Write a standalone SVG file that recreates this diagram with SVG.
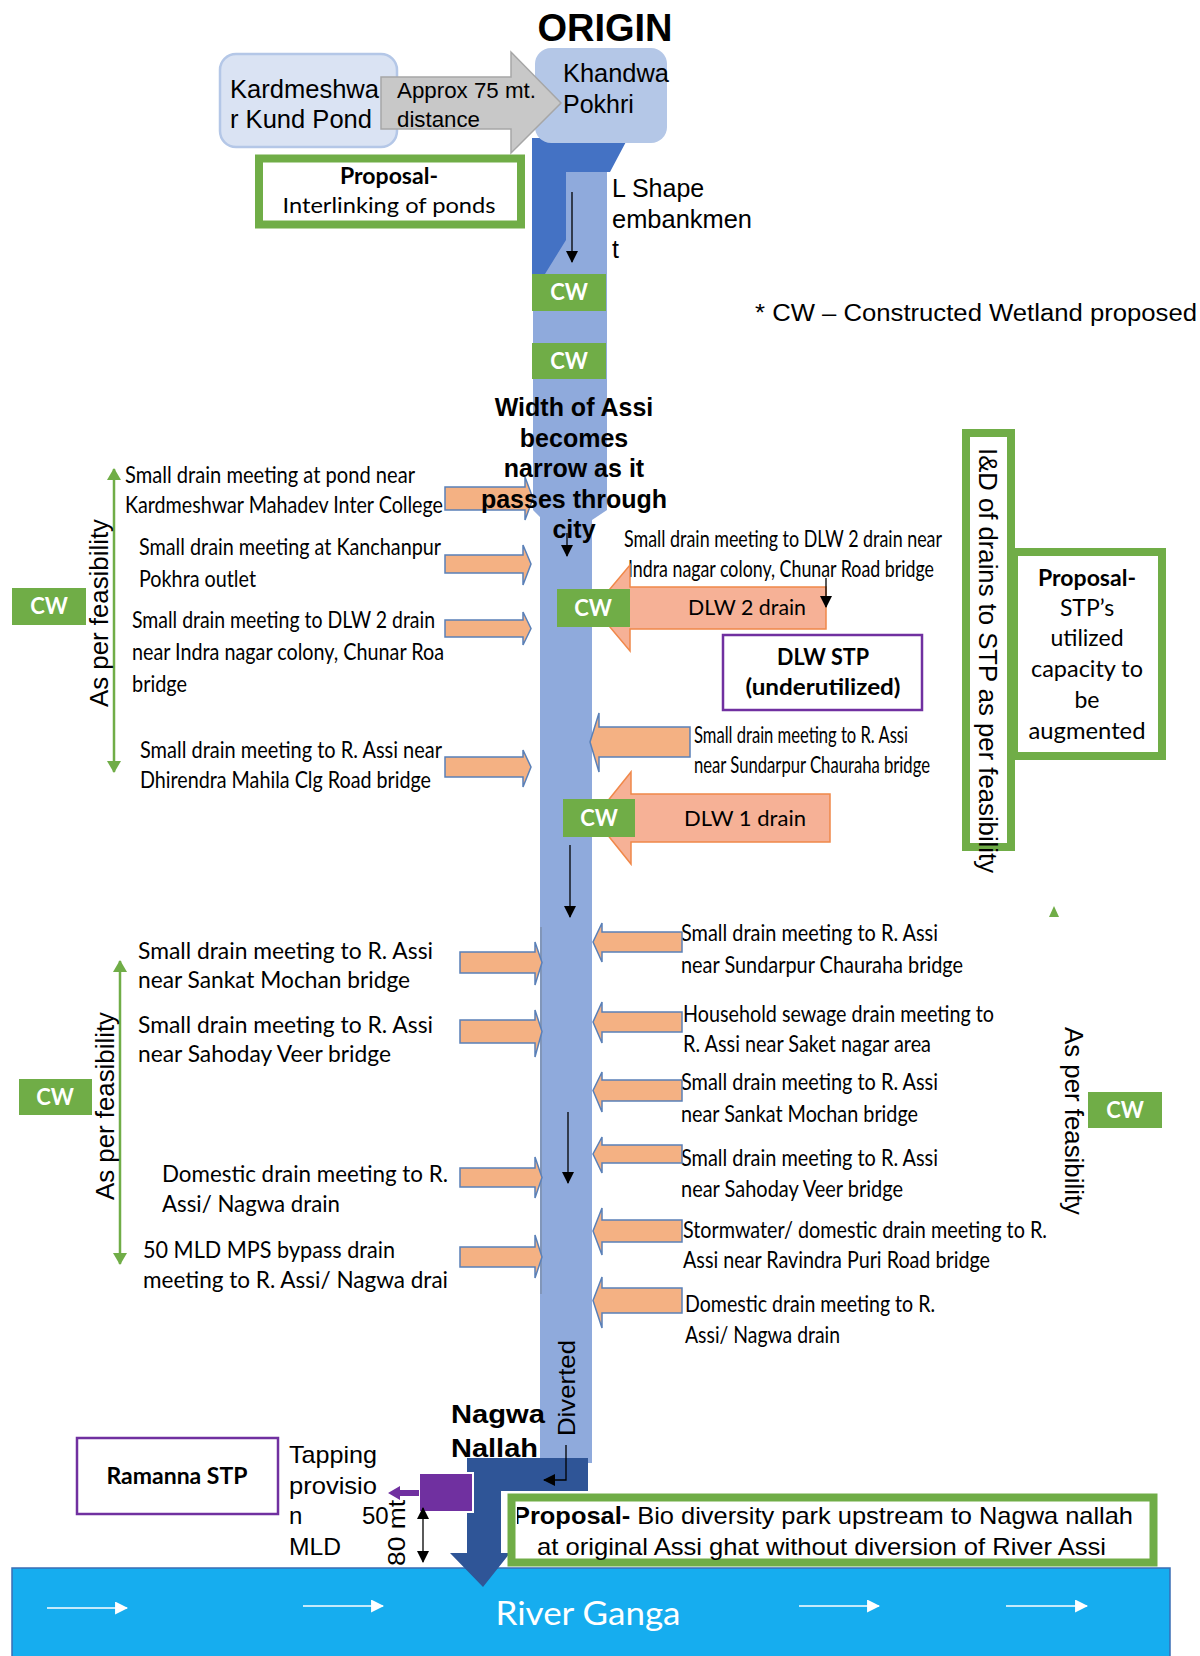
<svg xmlns="http://www.w3.org/2000/svg" width="1200" height="1656" viewBox="0 0 1200 1656">
<style>
  text { font-family: "Liberation Sans", Arial, sans-serif; fill: #000; }
  .cal { font-family: Lato, "Liberation Sans", Arial, sans-serif; }
  .dr { font-family: Lato, "Liberation Sans", Arial, sans-serif; font-size: 23.5px; }
  .b { font-weight: bold; }
  .mid { text-anchor: middle; }
  .cw rect { fill: #70ad47; }
  .cw text { fill: #fff; font-family: Lato, "Liberation Sans", Arial, sans-serif; font-weight: bold; font-size: 22px; text-anchor: middle; }
  .sarrow { fill: #f4b183; stroke: #5a80b8; stroke-width: 1.5; stroke-linejoin: miter; }
  .bigarrow { fill: #f6b196; stroke: #f0884a; stroke-width: 1.5; }
  .gbox { fill: #fff; stroke: #70ad47; stroke-width: 8; }
  .pbox { fill: #fff; stroke: #7030a0; stroke-width: 2.5; }
  .line { stroke: #000; stroke-width: 1.3; fill: none; }
  .gline { stroke: #70ad47; stroke-width: 2.5; fill: none; }
  .wline { stroke: #fff; stroke-width: 1.6; fill: none; }
</style>
<defs>
  <marker id="ah" viewBox="0 0 12 12" refX="11" refY="6" markerWidth="12" markerHeight="12" markerUnits="userSpaceOnUse" orient="auto-start-reverse">
    <path d="M0,0 L12,6 L0,12 z" fill="#000"/>
  </marker>
  <marker id="gh" viewBox="0 0 12 14" refX="11" refY="7" markerWidth="12" markerHeight="14" markerUnits="userSpaceOnUse" orient="auto-start-reverse">
    <path d="M0,0 L12,7 L0,14 z" fill="#70ad47"/>
  </marker>
  <marker id="wh" viewBox="0 0 12 12" refX="11" refY="6" markerWidth="13" markerHeight="13" markerUnits="userSpaceOnUse" orient="auto">
    <path d="M0,0 L12,6 L0,12 z" fill="#fff"/>
  </marker>
  <clipPath id="propClip"><rect x="517" y="1500" width="634" height="60"/></clipPath>
</defs>

<!-- river channel (Assi) -->
<g id="assi-channel">
  <polygon points="533,140 607,140 607,510 592,520 592,1463 540,1463 540,517 533,510" fill="#8faadc"/>
  <polygon points="532,138 628,138 610,172 566,172 566,240 545,274 532,274" fill="#4472c4"/>
  <line x1="541" y1="927" x2="541" y2="1294" stroke="#7d8fae" stroke-width="1.5"/>
</g>

<!-- River Ganga -->
<g id="ganga">
  <rect x="12" y="1568" width="1158" height="95" fill="#16adef" stroke="#3a6db5" stroke-width="1.5"/>
  <line class="wline" x1="47" y1="1608" x2="127" y2="1608" marker-end="url(#wh)"/>
  <line class="wline" x1="303" y1="1606" x2="383" y2="1606" marker-end="url(#wh)"/>
  <line class="wline" x1="799" y1="1606" x2="879" y2="1606" marker-end="url(#wh)"/>
  <line class="wline" x1="1006" y1="1606" x2="1087" y2="1606" marker-end="url(#wh)"/>
  <text class="cal mid" x="588" y="1625" font-size="33" fill="#fff" style="fill:#fff" textLength="185" lengthAdjust="spacingAndGlyphs">River Ganga</text>
</g>

<!-- origin ponds -->
<g id="origin">
  <text class="b mid" x="605" y="41" font-size="38">ORIGIN</text>
</g>
<g id="kardmeshwar">
  <rect x="220" y="54" width="177" height="93" rx="16" fill="#dae3f3" stroke="#b4c7e7" stroke-width="2.5"/>
  <text x="230" y="98" font-size="25" textLength="149" lengthAdjust="spacingAndGlyphs">Kardmeshwa</text>
  <text x="230" y="128" font-size="25" textLength="142" lengthAdjust="spacingAndGlyphs">r Kund Pond</text>
</g>
<g id="khandwa">
  <rect x="535" y="48" width="132" height="95" rx="16" fill="#b4c7e7"/>
</g>
<g id="distance-arrow">
  <polygon points="381,77 511,77 511,52 561,103 511,153 511,129 381,129" fill="#c8c8c8" stroke="#a6a6a6" stroke-width="1.5"/>
  <text x="397" y="98" font-size="22" textLength="139" lengthAdjust="spacingAndGlyphs">Approx 75 mt.</text>
  <text x="397" y="127" font-size="22" textLength="83" lengthAdjust="spacingAndGlyphs">distance</text>
</g>
<g id="khandwa-label">
  <text x="563" y="82" font-size="25" textLength="106" lengthAdjust="spacingAndGlyphs">Khandwa</text>
  <text x="563" y="113" font-size="25">Pokhri</text>
</g>
<g id="proposal-interlinking">
  <rect class="gbox" x="259" y="158.5" width="262" height="66"/>
  <text class="cal b mid" x="389" y="184" font-size="22" textLength="98" lengthAdjust="spacingAndGlyphs">Proposal-</text>
  <text class="cal mid" x="389" y="213" font-size="22" textLength="213" lengthAdjust="spacingAndGlyphs">Interlinking of ponds</text>
</g>
<g id="l-shape-label">
  <text x="612" y="197" font-size="25">L Shape</text>
  <text x="612" y="228" font-size="25" textLength="140" lengthAdjust="spacingAndGlyphs">embankmen</text>
  <text x="612" y="258" font-size="25">t</text>
</g>
<g id="legend">
  <text x="755" y="321" font-size="23" textLength="442" lengthAdjust="spacingAndGlyphs">* CW – Constructed Wetland proposed</text>
</g>

<!-- drain labels, left bank (upper reach) -->
<g id="drains-left-upper">
  <text class="dr" x="125" y="483" textLength="290" lengthAdjust="spacingAndGlyphs">Small drain meeting at pond near</text>
  <text class="dr" transform="translate(125,513) scale(0.8,1)" x="0" y="0" textLength="397.5" lengthAdjust="spacingAndGlyphs">Kardmeshwar Mahadev Inter College</text>
  <text class="dr" x="139" y="555" textLength="302" lengthAdjust="spacingAndGlyphs">Small drain meeting at Kanchanpur</text>
  <text class="dr" x="139" y="587" textLength="117" lengthAdjust="spacingAndGlyphs">Pokhra outlet</text>
  <text class="dr" x="132" y="628" textLength="303" lengthAdjust="spacingAndGlyphs">Small drain meeting to DLW 2 drain</text>
  <text class="dr" x="132" y="660" textLength="312" lengthAdjust="spacingAndGlyphs">near Indra nagar colony, Chunar Roa</text>
  <text class="dr" x="132" y="692" textLength="55" lengthAdjust="spacingAndGlyphs">bridge</text>
  <text class="dr" x="140" y="758" textLength="302" lengthAdjust="spacingAndGlyphs">Small drain meeting to R. Assi near</text>
  <text class="dr" x="140" y="788" textLength="291" lengthAdjust="spacingAndGlyphs">Dhirendra Mahila Clg Road bridge</text>
</g>

<!-- drain labels, right bank (upper reach) -->
<g id="drains-right-upper">
  <text class="dr" x="624" y="547" textLength="318" lengthAdjust="spacingAndGlyphs">Small drain meeting to DLW 2 drain near</text>
  <text class="dr" x="628" y="577" textLength="306" lengthAdjust="spacingAndGlyphs">Indra nagar colony, Chunar Road bridge</text>
  <text class="dr" x="694" y="743" textLength="214" lengthAdjust="spacingAndGlyphs">Small drain meeting to R. Assi</text>
  <text class="dr" x="694" y="773" textLength="236" lengthAdjust="spacingAndGlyphs">near Sundarpur Chauraha bridge</text>
</g>

<!-- drain labels, lower reach -->
<g id="drains-left-lower">
  <text class="dr" x="138" y="959" textLength="295" lengthAdjust="spacingAndGlyphs">Small drain meeting to R. Assi</text>
  <text class="dr" x="138" y="988" textLength="272" lengthAdjust="spacingAndGlyphs">near Sankat Mochan bridge</text>
  <text class="dr" x="138" y="1033" textLength="295" lengthAdjust="spacingAndGlyphs">Small drain meeting to R. Assi</text>
  <text class="dr" x="138" y="1062" textLength="253" lengthAdjust="spacingAndGlyphs">near Sahoday Veer bridge</text>
  <text class="dr" x="162" y="1182" textLength="286" lengthAdjust="spacingAndGlyphs">Domestic drain meeting to R.</text>
  <text class="dr" x="162" y="1212" textLength="178" lengthAdjust="spacingAndGlyphs">Assi/ Nagwa drain</text>
  <text class="dr" x="143" y="1258" textLength="252" lengthAdjust="spacingAndGlyphs">50 MLD MPS bypass drain</text>
  <text class="dr" x="143" y="1288" textLength="305" lengthAdjust="spacingAndGlyphs">meeting to R. Assi/ Nagwa drai</text>
</g>
<g id="drains-right-lower">
  <text class="dr" x="681" y="941" textLength="257" lengthAdjust="spacingAndGlyphs">Small drain meeting to R. Assi</text>
  <text class="dr" x="681" y="973" textLength="282" lengthAdjust="spacingAndGlyphs">near Sundarpur Chauraha bridge</text>
  <text class="dr" x="683" y="1022" textLength="311" lengthAdjust="spacingAndGlyphs">Household sewage drain meeting to</text>
  <text class="dr" x="683" y="1052" textLength="248" lengthAdjust="spacingAndGlyphs">R. Assi near Saket nagar area</text>
  <text class="dr" x="681" y="1090" textLength="257" lengthAdjust="spacingAndGlyphs">Small drain meeting to R. Assi</text>
  <text class="dr" x="681" y="1122" textLength="237" lengthAdjust="spacingAndGlyphs">near Sankat Mochan bridge</text>
  <text class="dr" x="681" y="1166" textLength="257" lengthAdjust="spacingAndGlyphs">Small drain meeting to R. Assi</text>
  <text class="dr" x="681" y="1197" textLength="222" lengthAdjust="spacingAndGlyphs">near Sahoday Veer bridge</text>
  <text class="dr" x="683" y="1238" textLength="364" lengthAdjust="spacingAndGlyphs">Stormwater/ domestic drain meeting to R.</text>
  <text class="dr" x="683" y="1268" textLength="307" lengthAdjust="spacingAndGlyphs">Assi near Ravindra Puri Road bridge</text>
  <text class="dr" x="685" y="1312" textLength="250" lengthAdjust="spacingAndGlyphs">Domestic drain meeting to R.</text>
  <text class="dr" x="685" y="1343" textLength="155" lengthAdjust="spacingAndGlyphs">Assi/ Nagwa drain</text>
</g>

<!-- connectors: drain inflows, flow directions -->
<g id="connectors">
  <!-- left bank inflows -->
  <path class="sarrow" d="M445,487 H525 V477 L533,498.5 L525,520 V510 H445 Z"/>
  <path class="sarrow" d="M445,555 H523 V545 L531,564 L523,585 V573 H445 Z"/>
  <path class="sarrow" d="M445,620 H523 V612 L531,628.5 L523,645 V637 H445 Z"/>
  <path class="sarrow" d="M445,757 H523 V750 L531,767 L523,787 V777 H445 Z"/>
  <path class="sarrow" d="M460,952 H535 V942 L542,962.5 L535,985 V973 H460 Z"/>
  <path class="sarrow" d="M460,1020 H535 V1010 L542,1031.5 L535,1057 V1043 H460 Z"/>
  <path class="sarrow" d="M460,1168 H535 V1157 L542,1177.5 L535,1198 V1187 H460 Z"/>
  <path class="sarrow" d="M460,1247 H535 V1235 L542,1257 L535,1278 V1267 H460 Z"/>
  <!-- right bank inflows -->
  <path class="sarrow" d="M690,727 H599 V713 L590,742 L599,772 V757 H690 Z"/>
  <path class="sarrow" d="M682,932 H602 V923 L593,942 L602,962 V952 H682 Z"/>
  <path class="sarrow" d="M682,1012 H602 V1002 L593,1022 L602,1043 V1032 H682 Z"/>
  <path class="sarrow" d="M682,1080 H602 V1072 L593,1090.5 L602,1112 V1101 H682 Z"/>
  <path class="sarrow" d="M682,1145 H602 V1137 L593,1154 L602,1173 V1163 H682 Z"/>
  <path class="sarrow" d="M682,1220 H602 V1208 L593,1231 L602,1255 V1242 H682 Z"/>
  <path class="sarrow" d="M682,1288 H602 V1277 L593,1300.5 L602,1328 V1313 H682 Z"/>
  <!-- DLW drains -->
  <path class="bigarrow" d="M826,587 H630 V565 L594,608 L630,651 V629 H826 Z"/>
  <path class="bigarrow" d="M830,794 H631 V772 L594,818 L631,864 V842 H830 Z"/>
  <!-- flow direction in the channel -->
  <line class="line" x1="572" y1="192" x2="572" y2="262" marker-end="url(#ah)"/>
  <line class="line" x1="567" y1="533" x2="567" y2="556" marker-end="url(#ah)"/>
  <line class="line" x1="570" y1="845" x2="570" y2="917" marker-end="url(#ah)"/>
  <line class="line" x1="568" y1="1112" x2="568" y2="1183" marker-end="url(#ah)"/>
  <line class="line" x1="826" y1="578" x2="826" y2="607" marker-end="url(#ah)"/>
  <!-- feasibility spans -->
  <line class="gline" x1="114" y1="469" x2="114" y2="772" marker-start="url(#gh)" marker-end="url(#gh)"/>
  <line class="gline" x1="120" y1="961" x2="120" y2="1264" marker-start="url(#gh)" marker-end="url(#gh)"/>
  <polygon points="1049,917 1059,917 1054,906" fill="#70ad47"/>
</g>

<!-- constructed wetlands -->
<g id="cw-1" class="cw"><rect x="532" y="274" width="74" height="37"/><text x="569" y="300">CW</text></g>
<g id="cw-2" class="cw"><rect x="532" y="343" width="74" height="36"/><text x="569" y="369">CW</text></g>
<g id="cw-left-upper" class="cw"><rect x="12" y="588" width="74" height="37"/><text x="49" y="614">CW</text></g>
<g id="cw-dlw2" class="cw"><rect x="557" y="589" width="73" height="38"/><text x="593" y="616">CW</text></g>
<g id="cw-dlw1" class="cw"><rect x="563" y="799" width="72" height="38"/><text x="599" y="826">CW</text></g>
<g id="cw-left-lower" class="cw"><rect x="19" y="1079" width="73" height="36"/><text x="55" y="1105">CW</text></g>
<g id="cw-right-lower" class="cw"><rect x="1088" y="1092" width="74" height="36"/><text x="1125" y="1118">CW</text></g>

<!-- channel note -->
<g id="width-note">
  <text class="b mid" x="574" y="416" font-size="25">Width of Assi</text>
  <text class="b mid" x="574" y="447" font-size="25">becomes</text>
  <text class="b mid" x="574" y="477" font-size="25">narrow as it</text>
  <text class="b mid" x="574" y="508" font-size="25">passes through</text>
  <text class="b mid" x="574" y="538" font-size="25">city</text>
</g>

<g id="dlw-labels">
  <text class="cal" x="688" y="615" font-size="22" textLength="118" lengthAdjust="spacingAndGlyphs">DLW 2 drain</text>
  <text class="cal" x="684" y="826" font-size="22" textLength="122" lengthAdjust="spacingAndGlyphs">DLW 1 drain</text>
</g>
<g id="dlw-stp">
  <rect class="pbox" x="723" y="635" width="199" height="75"/>
  <text class="cal b mid" x="823" y="665" font-size="22" textLength="92" lengthAdjust="spacingAndGlyphs">DLW STP</text>
  <text class="cal b mid" x="823" y="695" font-size="22" textLength="155" lengthAdjust="spacingAndGlyphs">(underutilized)</text>
</g>

<!-- I&D and STP proposal -->
<g id="ind-box">
  <rect class="gbox" x="966" y="433" width="45" height="414"/>
  <text transform="translate(979,448) rotate(90)" font-size="25" textLength="425" lengthAdjust="spacingAndGlyphs">I&amp;D of drains to STP as per feasibility</text>
</g>
<g id="proposal-stp">
  <rect class="gbox" x="1014" y="552" width="148" height="204"/>
  <text class="cal b mid" x="1087" y="586" font-size="23" textLength="98" lengthAdjust="spacingAndGlyphs">Proposal-</text>
  <text class="cal mid" x="1087" y="616" font-size="23">STP’s</text>
  <text class="cal mid" x="1087" y="646" font-size="23">utilized</text>
  <text class="cal mid" x="1087" y="677" font-size="23" textLength="112" lengthAdjust="spacingAndGlyphs">capacity to</text>
  <text class="cal mid" x="1087" y="708" font-size="23">be</text>
  <text class="cal mid" x="1087" y="739" font-size="23" textLength="117" lengthAdjust="spacingAndGlyphs">augmented</text>
</g>

<!-- feasibility labels -->
<g id="feasibility-labels">
  <text class="mid" transform="translate(108,613) rotate(-90)" font-size="25" textLength="188" lengthAdjust="spacingAndGlyphs">As per feasibility</text>
  <text class="mid" transform="translate(114,1106) rotate(-90)" font-size="25" textLength="188" lengthAdjust="spacingAndGlyphs">As per feasibility</text>
  <text class="mid" transform="translate(1065,1121) rotate(90)" font-size="25" textLength="188" lengthAdjust="spacingAndGlyphs">As per feasibility</text>
</g>

<!-- Nagwa outfall -->
<g id="nagwa-nallah">
  <polygon points="467,1458 588,1458 588,1491 501,1491 501,1553 510,1553 483,1587 450,1553 467,1553" fill="#2f5597"/>
  <path class="line" d="M566,1445 V1480 H544" marker-end="url(#ah)"/>
  <text class="b" x="451" y="1423" font-size="26" textLength="94" lengthAdjust="spacingAndGlyphs">Nagwa</text>
  <text class="b" x="451" y="1457" font-size="26" textLength="87" lengthAdjust="spacingAndGlyphs">Nallah</text>
  <text class="mid" transform="translate(575,1388) rotate(-90)" font-size="24" textLength="96" lengthAdjust="spacingAndGlyphs">Diverted</text>
</g>
<g id="tapping">
  <rect x="419" y="1473" width="54" height="39" fill="#7030a0" stroke="#fff" stroke-width="2"/>
  <polygon points="419,1490 400,1490 400,1486 388,1493 400,1500 400,1496 419,1496" fill="#7030a0"/>
  <text x="289" y="1463" font-size="24" textLength="88" lengthAdjust="spacingAndGlyphs">Tapping</text>
  <text x="289" y="1494" font-size="24" textLength="88" lengthAdjust="spacingAndGlyphs">provisio</text>
  <text x="289" y="1524" font-size="24">n</text>
  <text x="289" y="1555" font-size="24" textLength="52" lengthAdjust="spacingAndGlyphs">MLD</text>
  <text x="362" y="1524" font-size="24">50</text>
  <line class="line" x1="423" y1="1508" x2="423" y2="1562" marker-start="url(#ah)" marker-end="url(#ah)"/>
  <text class="mid" transform="translate(405,1533) rotate(-90)" font-size="24" textLength="66" lengthAdjust="spacingAndGlyphs">80 mt</text>
</g>
<g id="ramanna-stp">
  <rect class="pbox" x="77" y="1438" width="201" height="76"/>
  <text class="cal b mid" x="177" y="1484" font-size="22" textLength="141" lengthAdjust="spacingAndGlyphs">Ramanna STP</text>
</g>
<g id="proposal-biodiversity">
  <rect class="gbox" x="511.5" y="1497.5" width="642" height="65" stroke-width="9"/>
  <g clip-path="url(#propClip)">
    <text x="513" y="1524" font-size="24" textLength="620" lengthAdjust="spacingAndGlyphs"><tspan font-weight="bold">Proposal-</tspan> Bio diversity park upstream to Nagwa nallah</text>
    <text x="537" y="1555" font-size="24" textLength="569" lengthAdjust="spacingAndGlyphs">at original Assi ghat without diversion of River Assi</text>
  </g>
</g>
</svg>
